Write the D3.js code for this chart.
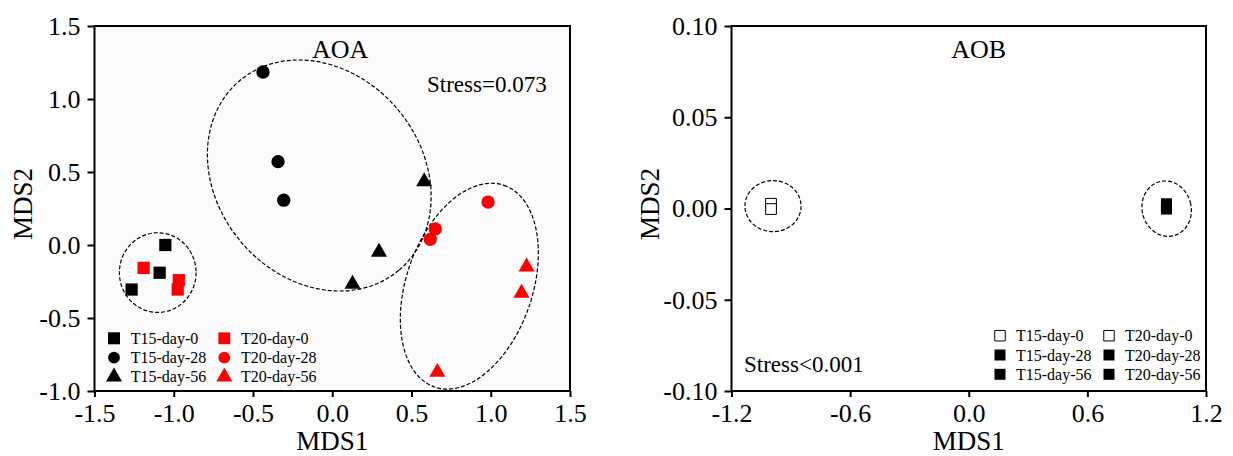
<!DOCTYPE html>
<html>
<head>
<meta charset="utf-8">
<script src="https://cdn.jsdelivr.net/npm/d3@7"></script>
<style>
  body { margin: 0; background: #fff; }
  svg { display: block; font-family: "Liberation Serif", "Times New Roman", serif; }
</style>
</head>
<body>
<svg id="chart" width="1233" height="456"></svg>
<script>
const width = 1233, height = 456;

// ---- data: AOA
const aoa_T15_0  = [[-1.053, 0.000], [-1.089, -0.190], [-1.266, -0.305]];
const aoa_T20_0  = [[-1.190, -0.157], [-0.968, -0.241], [-0.975, -0.305]];
const aoa_T15_28 = [[-0.437, 1.185], [-0.342, 0.571], [-0.306, 0.307]];
const aoa_T20_28 = [[0.983, 0.294], [0.650, 0.110], [0.618, 0.039]];
const aoa_T15_56 = [[0.580, 0.435], [0.295, -0.048], [0.128, -0.268]];
const aoa_T20_56 = [[1.226, -0.149], [1.194, -0.329], [0.663, -0.871]];

// ---- data: AOB
const aob_T15_0  = [[-1.0, 0.0026]];
const aob_T20_0  = [[-1.0, -0.0003]];
const aob_T15_28 = [[1.0, 0.0026]];
const aob_T20_28 = [[1.0, 0.0013]];
const aob_T15_56 = [[1.0, 0.0000]];
const aob_T20_56 = [[1.0, -0.0003]];

const groupNames = ["T15-day-0", "T15-day-28", "T15-day-56", "T20-day-0", "T20-day-28", "T20-day-56"];

const aoaXTicks = [-1.5, -1.0, -0.5, 0.0, 0.5, 1.0, 1.5];
const aoaYTicks = [-1.0, -0.5, 0.0, 0.5, 1.0, 1.5];
const aobXTicks = [-1.2, -0.6, 0.0, 0.6, 1.2];
const aobYTicks = [-0.10, -0.05, 0.00, 0.05, 0.10];

// group ellipses (center, semi axes in data units, tilt in degrees)
const aoaEllipses = [
  {cx: -1.101, cy: -0.189, rx: 0.242, ry: 0.273, angle: 0},
  {cx: -0.082, cy: 0.476, rx: 0.781, ry: 0.703, angle: 50},
  {cx: 0.865, cy: -0.282, rx: 0.673, ry: 0.432, angle: -71}
];
const aobEllipses = [
  {cx: -0.990, cy: 0.0013, rx: 0.142, ry: 0.0140, angle: 0},
  {cx: 1.001, cy: -0.0001, rx: 0.124, ry: 0.0153, angle: -15}
];

const svg = d3.select('#chart');

const sym = {
  square: d3.symbolSquare,
  circle: d3.symbolCircle,
  triangle: d3.symbolTriangle
};

function drawPanel(p) {
  const x = d3.scaleLinear().domain(p.xDomain).range([p.left, p.right]);
  const y = d3.scaleLinear().domain(p.yDomain).range([p.bottom, p.top]);
  const g = svg.append('g');

  // plot background
  g.append('rect')
    .attr('x', p.left).attr('y', p.top)
    .attr('width', p.right - p.left).attr('height', p.bottom - p.top)
    .style('fill', p.bg);

  // axes
  const xAxis = d3.axisBottom(x).tickValues(p.xTicks).tickFormat(p.fmt.x).tickSize(6).tickPadding(7);
  const yAxis = d3.axisLeft(y).tickValues(p.yTicks).tickFormat(p.fmt.y).tickSize(7).tickPadding(7);

  const gx = g.append('g')
    .attr('transform', 'translate(0,' + p.bottom + ')')
    .call(xAxis);
  const gy = g.append('g')
    .attr('transform', 'translate(' + p.left + ',0)')
    .call(yAxis);
  [gx, gy].forEach(a => {
    a.select('.domain').remove();
    a.selectAll('line').style('stroke', '#000').style('stroke-width', 2);
    a.selectAll('text')
      .style('font-family', '"Liberation Serif", "Times New Roman", serif')
      .style('font-size', '26px')
      .style('fill', '#000');
  });

  // ellipses
  g.selectAll('.ell')
    .data(p.ellipses)
    .join('ellipse')
      .attr('class', 'ell')
      .attr('cx', 0).attr('cy', 0)
      .attr('rx', d => x(d.cx + d.rx) - x(d.cx))
      .attr('ry', d => y(d.cy) - y(d.cy + d.ry))
      .attr('transform', d => 'translate(' + x(d.cx) + ',' + y(d.cy) + ') rotate(' + d.angle + ')')
      .style('fill', 'none')
      .style('stroke', '#000')
      .style('stroke-width', 1.2)
      .style('stroke-dasharray', '4,2');

  // points
  p.series.forEach(s => {
    g.selectAll(null)
      .data(s.values)
      .join('path')
        .attr('d', d3.symbol(sym[s.shape], s.size))
        .attr('transform', d => 'translate(' + x(d[0]) + ',' + y(d[1]) + ')')
        .style('fill', s.fill)
        .style('stroke', s.stroke || 'none')
        .style('stroke-width', 1);
  });

  // frame
  g.append('rect')
    .attr('x', p.left).attr('y', p.top)
    .attr('width', p.right - p.left).attr('height', p.bottom - p.top)
    .style('fill', 'none')
    .style('stroke', '#000')
    .style('stroke-width', 2);

  // axis titles
  g.append('text')
    .attr('x', (p.left + p.right) / 2)
    .attr('y', 450)
    .attr('text-anchor', 'middle')
    .style('font-size', '27px')
    .text('MDS1');
  g.append('text')
    .attr('transform', 'translate(' + p.yTitleX + ',204) rotate(-90)')
    .attr('text-anchor', 'middle')
    .style('font-size', '27px')
    .text('MDS2');

  // panel title + stress
  g.append('text')
    .attr('x', x(p.title.x)).attr('y', 58)
    .attr('text-anchor', 'middle')
    .style('font-size', '26px')
    .text(p.title.text);
  g.append('text')
    .attr('x', p.stress.x).attr('y', p.stress.y)
    .style('font-size', '23px')
    .text(p.stress.text);

  // legend, two columns of three
  const lg = g.append('g').attr('transform', 'translate(' + p.legend.x + ',' + p.legend.y + ')');
  p.series.forEach((s, i) => {
    const col = Math.floor(i / 3), row = i % 3;
    const item = lg.append('g')
      .attr('transform', 'translate(' + (col * p.legend.colW) + ',' + (row * 19.3) + ')');
    item.append('path')
      .attr('d', d3.symbol(sym[s.shape], s.legendSize))
      .style('fill', s.fill)
      .style('stroke', s.stroke || 'none')
      .style('stroke-width', 1);
    item.append('text')
      .attr('x', p.legend.textDx)
      .attr('y', 5.5)
      .style('font-size', '16px')
      .text(s.name);
  });
}

// AOA panel
drawPanel({
  left: 94.5, right: 570, top: 26, bottom: 391,
  xDomain: [-1.5, 1.5], yDomain: [-1.0, 1.5],
  xTicks: aoaXTicks, yTicks: aoaYTicks,
  fmt: {x: d => d.toFixed(1), y: d => d.toFixed(1)},
  bg: '#fbfbfb',
  yTitleX: 32,
  ellipses: aoaEllipses,
  title: {text: 'AOA', x: 0.05},
  stress: {text: 'Stress=0.073', x: 427, y: 92},
  legend: {x: 114, y: 338.3, colW: 110.3, textDx: 16.7},
  series: [
    {name: groupNames[0], values: aoa_T15_0, shape: 'square', size: 150, legendSize: 144, fill: '#000'},
    {name: groupNames[1], values: aoa_T15_28, shape: 'circle', size: 140, legendSize: 110, fill: '#000'},
    {name: groupNames[2], values: aoa_T15_56, shape: 'triangle', size: 112, legendSize: 112, fill: '#000'},
    {name: groupNames[3], values: aoa_T20_0, shape: 'square', size: 150, legendSize: 140, fill: '#ff0000'},
    {name: groupNames[4], values: aoa_T20_28, shape: 'circle', size: 140, legendSize: 110, fill: '#ff0000'},
    {name: groupNames[5], values: aoa_T20_56, shape: 'triangle', size: 112, legendSize: 112, fill: '#ff0000'}
  ]
});

// AOB panel
drawPanel({
  left: 731.5, right: 1206, top: 26, bottom: 391,
  xDomain: [-1.2, 1.2], yDomain: [-0.10, 0.10],
  xTicks: aobXTicks, yTicks: aobYTicks,
  fmt: {x: d => d.toFixed(1), y: d => d.toFixed(2)},
  bg: '#ffffff',
  yTitleX: 659,
  ellipses: aobEllipses,
  title: {text: 'AOB', x: 0.05},
  stress: {text: 'Stress<0.001', x: 744, y: 372},
  legend: {x: 1000, y: 335.7, colW: 109, textDx: 16},
  series: [
    {name: groupNames[0], values: aob_T15_0, shape: 'square', size: 115, legendSize: 110, fill: '#fff', stroke: '#000'},
    {name: groupNames[1], values: aob_T15_28, shape: 'square', size: 121, legendSize: 121, fill: '#000'},
    {name: groupNames[2], values: aob_T15_56, shape: 'square', size: 121, legendSize: 121, fill: '#000'},
    {name: groupNames[3], values: aob_T20_0, shape: 'square', size: 115, legendSize: 110, fill: '#fff', stroke: '#000'},
    {name: groupNames[4], values: aob_T20_28, shape: 'square', size: 121, legendSize: 121, fill: '#000'},
    {name: groupNames[5], values: aob_T20_56, shape: 'square', size: 121, legendSize: 121, fill: '#000'}
  ]
});
</script>
</body>
</html>
